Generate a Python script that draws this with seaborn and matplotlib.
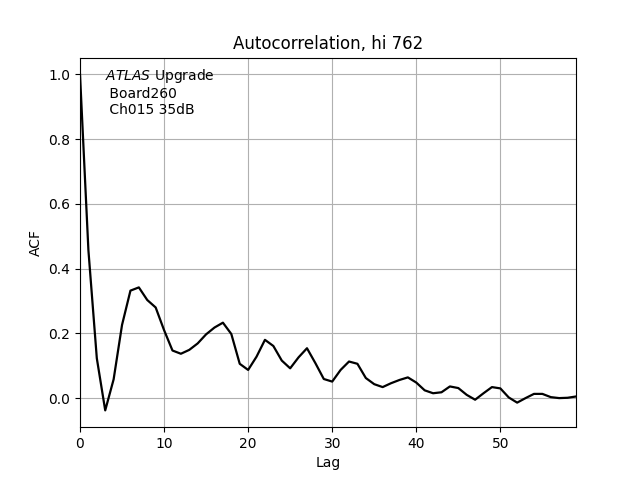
import numpy as np
import pandas as pd
import matplotlib
matplotlib.use("Agg")
import matplotlib.pyplot as plt
import seaborn as sns

# ACF values, lags 0..59
lags = list(range(60))
acf = [1.000, 0.457, 0.123, -0.038, 0.058, 0.226, 0.332, 0.342, 0.303, 0.280,
       0.210, 0.147, 0.137, 0.149, 0.169, 0.197, 0.218, 0.233, 0.198, 0.106,
       0.087, 0.128, 0.180, 0.161, 0.116, 0.092, 0.126, 0.154, 0.108, 0.059,
       0.051, 0.087, 0.113, 0.106, 0.062, 0.043, 0.034, 0.046, 0.056, 0.064,
       0.048, 0.024, 0.015, 0.018, 0.036, 0.031, 0.010, -0.005, 0.015, 0.034,
       0.030, 0.002, -0.014, 0.000, 0.013, 0.013, 0.003, 0.000, 0.001, 0.005]

df = pd.DataFrame({"Lag": lags, "ACF": acf})

fig, ax = plt.subplots(figsize=(6.4, 4.8), dpi=100)
sns.lineplot(data=df, x="Lag", y="ACF", color="black", linewidth=1.6, ax=ax)
ax.set_xlim(0, 59)
ax.grid(True)
ax.set_xlabel("Lag")
ax.set_ylabel("ACF")
ax.set_title("Autocorrelation, hi 762")
ax.text(0.05, 0.975, "$\\it{ATLAS}$ Upgrade\n Board260\n Ch015 35dB",
        transform=ax.transAxes, va="top", ha="left")

fig.savefig("out.png", dpi=100)
